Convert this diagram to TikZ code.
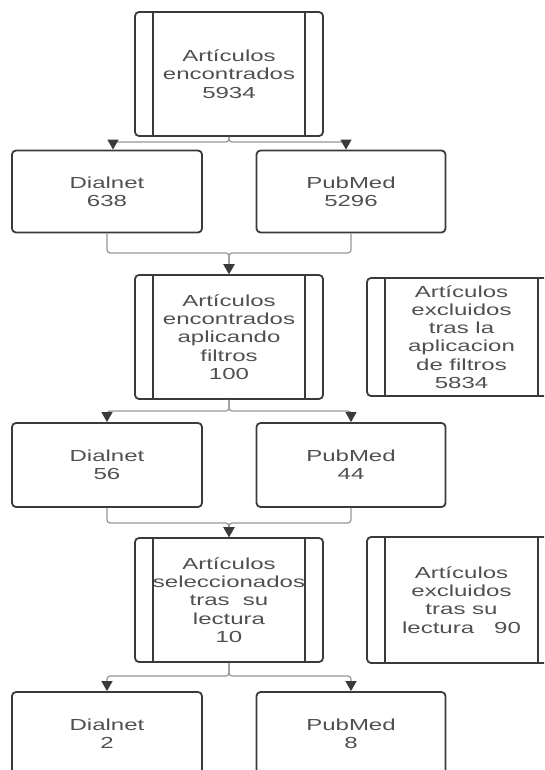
\documentclass[tikz,border=0pt]{standalone}
\usepackage{fontspec}
\newfontfamily\boxfont[FakeStretch=1.5]{Liberation Sans}
\usetikzlibrary{shapes, arrows.meta}
\definecolor{boxline}{RGB}{58,58,58}
\definecolor{linkgray}{RGB}{150,150,150}
\definecolor{textgray}{RGB}{80,80,80}
\tikzstyle{leaf} = [rectangle, draw=boxline, line width=1.8pt, rounded corners=4pt,
    minimum width=190pt, minimum height=82pt, inner sep=0pt, align=center,
    text=textgray, font=\boxfont\fontsize{16}{18.3}\selectfont]
\tikzstyle{proc} = [leaf, minimum width=188pt, minimum height=124pt,
    path picture={
        \draw [boxline, line width=1.8pt]
            ([xshift=18pt]path picture bounding box.north west) -- ([xshift=18pt]path picture bounding box.south west)
            ([xshift=-18pt]path picture bounding box.north east) -- ([xshift=-18pt]path picture bounding box.south east);
    }]
\tikzstyle{link} = [draw=linkgray, line width=1.2pt, rounded corners=3pt,
    -{Triangle[width=11pt, length=10pt, color=boxline]}]

\begin{document}
\begin{tikzpicture}[x=1pt, y=-1pt, node distance=263pt, auto]
        \clip (0,0) rectangle (544,770);
        % Place nodes
        \node [proc] (found) at (229,74) {Artículos\\encontrados\\5934};
        \node [leaf, below of=found, node distance=117.5pt, xshift=-122pt] (dialnet1) {Dialnet\\638};
        \node [leaf, below of=found, node distance=117.5pt, xshift=122pt, minimum width=189pt] (pubmed1) {PubMed\\5296};
        \node [proc, below of=found] (filtered) {Artículos\\encontrados\\aplicando\\filtros\\100};
        \node [proc, right of=filtered, node distance=232.5pt, minimum width=189pt, minimum height=118pt] (excluded1) {Artículos\\excluidos\\tras la\\aplicacion\\de filtros\\5834};
        \node [leaf, below of=filtered, node distance=128pt, xshift=-122pt, minimum height=84pt] (dialnet2) {Dialnet\\56};
        \node [leaf, below of=filtered, node distance=128pt, xshift=122pt, minimum width=189pt, minimum height=84pt] (pubmed2) {PubMed\\44};
        \node [proc, below of=filtered] (selected) {Artículos\\seleccionados\\tras\ \ su\\lectura\\10};
        \node [proc, right of=selected, node distance=232.5pt, minimum width=189pt, minimum height=126pt] (excluded2) {Artículos\\excluidos\\tras su\\lectura\ \ \ 90};
        \node [leaf, below of=selected, node distance=134pt, xshift=-122pt, minimum height=84pt] (dialnet3) {Dialnet\\2};
        \node [leaf, below of=selected, node distance=134pt, xshift=122pt, minimum width=189pt, minimum height=84pt] (pubmed3) {PubMed\\8};
        % Split and join points
        \coordinate [below of=found, node distance=68pt] (split1);
        \coordinate [above of=filtered, node distance=84pt] (join1);
        \coordinate [below of=filtered, node distance=74pt] (split2);
        \coordinate [above of=selected, node distance=77pt] (join2);
        \coordinate [below of=selected, node distance=76pt] (split3);
        % Draw edges
        \path [link] (found.south) -- (split1) -| ([xshift=6pt]dialnet1.north);
        \path [link] (found.south) -- (split1) -| ([xshift=-5pt]pubmed1.north);
        \path [link] (dialnet1.south) |- (join1) -- (filtered.north);
        \path [link] (pubmed1.south) |- (join1) -- (filtered.north);
        \path [link] (filtered.south) -- (split2) -| (dialnet2.north);
        \path [link] (filtered.south) -- (split2) -| (pubmed2.north);
        \path [link] (dialnet2.south) |- (join2) -- (selected.north);
        \path [link] (pubmed2.south) |- (join2) -- (selected.north);
        \path [link] (selected.south) -- (split3) -| (dialnet3.north);
        \path [link] (selected.south) -- (split3) -| (pubmed3.north);
    \end{tikzpicture}
\end{document}
